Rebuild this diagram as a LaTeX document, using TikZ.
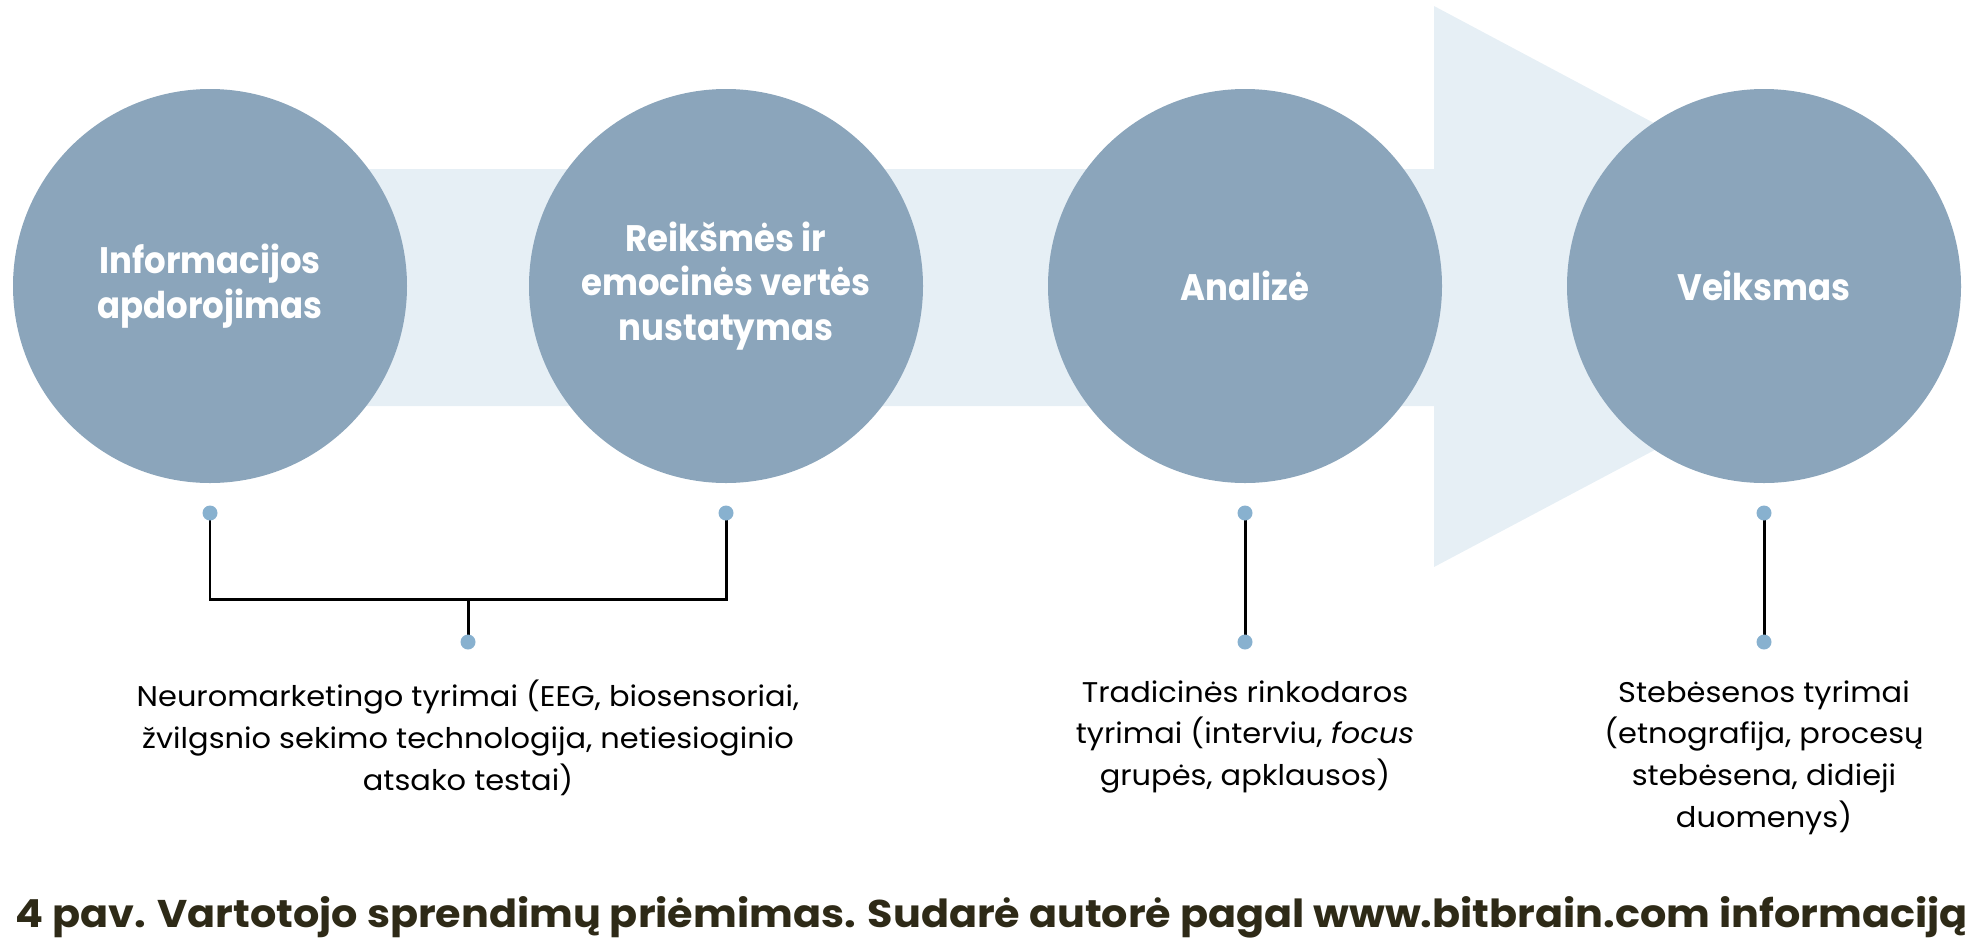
\documentclass[tikz,border=0pt]{standalone}
\usepackage{fontspec}
\setmainfont{Poppins}
\newfontfamily\stepfont{Poppins}[FakeStretch=0.92]
\newfontfamily\notefont{Poppins}[FakeStretch=1.07]
\usetikzlibrary{positioning}

\definecolor{stepBlue}{HTML}{8BA5BB}
\definecolor{bandBlue}{HTML}{E6EFF5}
\definecolor{dotBlue}{HTML}{88B1CF}
\definecolor{captionBrown}{HTML}{2E2A17}

\tikzset{
    STEP_BALL/.style={shape=circle, fill=stepBlue, minimum size=394*0.02cm,
        inner sep=0mm, align=center, text=white,
        font={\stepfont\fontsize{21}{25.3}\selectfont\bfseries}},
    DOT/.style={shape=circle, fill=dotBlue, minimum size=15*0.02cm,
        inner sep=0mm},
    EDGE/.style={draw=black, line width=1.7pt},
    BAND/.style={fill=bandBlue},
    NOTE/.style={anchor=north, align=center, inner sep=0mm,
        font={\notefont\fontsize{16.2}{23.8}\selectfont}},
    CAPTION/.style={anchor=base west, inner sep=0mm, text=captionBrown,
        font={\notefont\fontsize{22}{24}\selectfont\bfseries}}
}
\pgfdeclarelayer{bglayer}
\pgfdeclarelayer{edgelayer}
\pgfdeclarelayer{nodelayer}
\pgfsetlayers{bglayer,edgelayer,nodelayer,main}

\begin{document}
\begin{tikzpicture}[x=0.02cm, y=-0.02cm]
    \useasboundingbox (0,0) rectangle (1980,944);
    \begin{pgfonlayer}{bglayer}
        \fill[BAND] (210,169) -- (1434,169) -- (1434,6) -- (1962,287)
            -- (1434,567) -- (1434,406) -- (210,406) -- cycle;
    \end{pgfonlayer}
    \begin{pgfonlayer}{nodelayer}
        \node [STEP_BALL] (1) at (210, 286) {Informacijos\\apdorojimas};
        \node [STEP_BALL] (2) at (726, 286) {Reikšmės ir\\emocinės vertės\\nustatymas};
        \node [STEP_BALL] (3) at (1245, 286) {Analizė};
        \node [STEP_BALL] (4) at (1764, 286) {Veiksmas};
        \node [DOT] (5) at (210, 513) {};
        \node [DOT] (6) at (726, 513) {};
        \node [DOT] (7) at (468, 642) {};
        \node [DOT] (8) at (1245, 513) {};
        \node [DOT] (9) at (1245, 642) {};
        \node [DOT] (10) at (1764, 513) {};
        \node [DOT] (11) at (1764, 642) {};
        \coordinate (12) at (468, 599);
    \end{pgfonlayer}
    \begin{pgfonlayer}{edgelayer}
        \draw[EDGE] (5.center) |- (12) -| (6.center);
        \draw[EDGE] (12) to (7.center);
        \draw[EDGE] (8.center) to (9.center);
        \draw[EDGE] (10.center) to (11.center);
    \end{pgfonlayer}
    \node [NOTE] (13) at (468, 680) {Neuromarketingo tyrimai (EEG, biosensoriai,\\žvilgsnio sekimo technologija, netiesioginio\\atsako testai)};
    \node [NOTE] (14) at (1245, 680) {Tradicinės rinkodaros\\tyrimai (interviu, \textit{focus}\\grupės, apklausos)};
    \node [NOTE] (15) at (1764, 680) {Stebėsenos tyrimai\\(etnografija, procesų\\stebėsena, didieji\\duomenys)};
    \node [CAPTION] (16) at (15, 927) {4 pav. Vartotojo sprendimų priėmimas. Sudarė autorė pagal www.bitbrain.com informaciją};
\end{tikzpicture}
\end{document}
